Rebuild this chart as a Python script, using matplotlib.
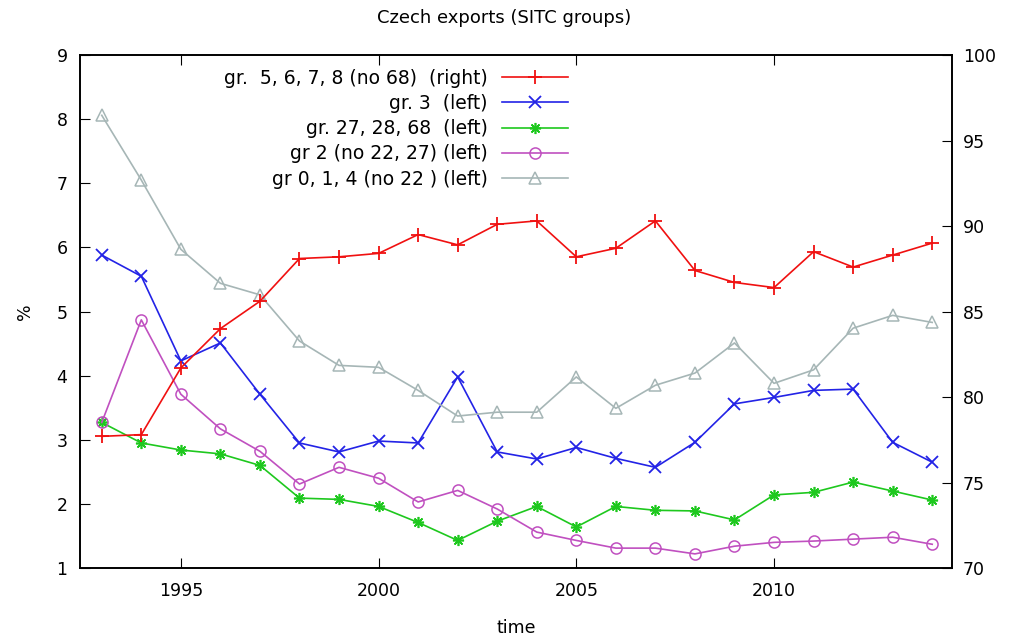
import matplotlib

matplotlib.use("Agg")
import matplotlib.pyplot as plt
from matplotlib.ticker import MultipleLocator

years = list(range(1993, 2015))

# SITC 5-8 (no 68), plotted on the right axis
manufactures = [77.7, 77.8, 81.7, 84.0, 85.6, 88.1, 88.2, 88.4, 89.5, 88.9, 90.1,
                90.3, 88.2, 88.7, 90.3, 87.4, 86.7, 86.4, 88.5, 87.6, 88.3, 89.0]
# left axis series
fuels = [5.88, 5.55, 4.23, 4.51, 3.71, 2.95, 2.81, 2.98, 2.95, 3.98, 2.81,
         2.70, 2.88, 2.71, 2.57, 2.96, 3.56, 3.66, 3.77, 3.79, 2.96, 2.65]
minerals = [3.27, 2.95, 2.84, 2.78, 2.60, 2.09, 2.07, 1.96, 1.71, 1.43, 1.73,
            1.96, 1.64, 1.96, 1.90, 1.89, 1.75, 2.14, 2.18, 2.34, 2.20, 2.06]
crude = [3.27, 4.87, 3.71, 3.17, 2.82, 2.31, 2.57, 2.40, 2.03, 2.21, 1.92,
         1.56, 1.43, 1.31, 1.31, 1.22, 1.34, 1.40, 1.42, 1.45, 1.48, 1.37]
food = [8.06, 7.05, 5.97, 5.44, 5.26, 4.54, 4.16, 4.13, 3.77, 3.37, 3.43,
        3.43, 3.98, 3.49, 3.85, 4.04, 4.51, 3.88, 4.09, 4.74, 4.94, 4.83]

labels = [
    "gr.  5, 6, 7, 8 (no 68)  (right)",
    "gr. 3  (left)",
    "gr. 27, 28, 68  (left)",
    "gr 2 (no 22, 27) (left)",
    "gr 0, 1, 4 (no 22 ) (left)",
]

plt.rcParams["font.family"] = "DejaVu Sans"
plt.rcParams["font.size"] = 12

fig = plt.figure(figsize=(10.09, 6.4), dpi=100)
ax = fig.add_axes([0.0793, 0.1125, 0.8642, 0.8015])
ax2 = ax.twinx()

lw = 1.2
ms = 8
h_fuels, = ax.plot(years, fuels, color="#2323e6", lw=lw, marker="x", ms=ms, mew=1.3)
h_min, = ax.plot(years, minerals, color="#1ec81e", lw=lw, marker=(8, 2, 0), ms=ms, mew=1.2)
h_crude, = ax.plot(years, crude, color="#c050c0", lw=lw, marker="o", ms=ms,
                   mfc="none", mew=1.1)
h_food, = ax.plot(years, food, color="#a6b6b6", lw=lw, marker="^", ms=ms,
                  mfc="none", mew=1.1)
h_manu, = ax2.plot(years, manufactures, color="#f01010", lw=lw, marker="+", ms=10, mew=1.3)

ax.set_xlim(1992.45, 2014.5)
ax.set_ylim(1, 9)
ax2.set_ylim(70, 100)
ax.xaxis.set_major_locator(MultipleLocator(5))
ax.yaxis.set_major_locator(MultipleLocator(1))
ax2.yaxis.set_major_locator(MultipleLocator(5))

ax.tick_params(axis="x", direction="in", length=7, top=True, pad=10, labelsize=12.5)
ax.tick_params(axis="y", direction="in", length=7, right=False, pad=9, labelsize=12.5)
ax2.tick_params(axis="y", direction="in", length=7, pad=8, labelsize=12.5)

for a in (ax, ax2):
    for s in a.spines.values():
        s.set_linewidth(1.2)

ax.set_xlabel("time", labelpad=14, fontsize=12.5)
ax.set_ylabel("%", labelpad=16, fontsize=12.5)
fig.text(0.5, 0.972, "Czech exports (SITC groups)", ha="center", va="center", fontsize=13)

ax2.legend(
    [h_manu, h_fuels, h_min, h_crude, h_food],
    labels,
    loc="upper right",
    bbox_to_anchor=(0.572, 0.995),
    frameon=False,
    markerfirst=False,
    handlelength=3.5,
    handletextpad=0.75,
    labelspacing=0.33,
    fontsize=13.5,
    borderaxespad=0.2,
)

fig.savefig("out.png", dpi=100)
